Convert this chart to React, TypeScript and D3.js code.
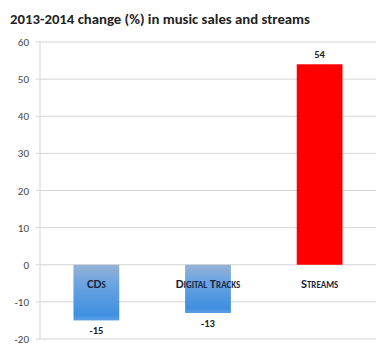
import React from "react";
import * as d3 from "d3";

const categories = ["CDs", "Digital Tracks", "Streams"];
const values = [-15, -13, 54];
const yTicks = [60, 50, 40, 30, 20, 10, 0, -10, -20];
const title = "2013-2014 change (%) in music sales and streams";

const W = 381;
const H = 362;

export default function App() {
  const x = d3.scaleBand<string>().domain(categories).range([40, 376]).paddingInner(0.59).paddingOuter(0.3);
  const y = d3.scaleLinear().domain([-20, 60]).range([339, 42]);
  const font = "Carlito, Lato, 'Open Sans', sans-serif";
  return (
    <svg width={W} height={H} style={{ position: "absolute", left: 0, top: 0, background: "#fff" }}>
      <defs>
        <linearGradient id="blueGrad" x1="0" y1="0" x2="0" y2="1">
          <stop offset="0" stopColor="#98b2d4" />
          <stop offset="0.3" stopColor="#6fa6e2" />
          <stop offset="0.9" stopColor="#3f8fe0" />
          <stop offset="1" stopColor="#5a9fe6" />
        </linearGradient>
      </defs>
      <text x={10} y={24} fontFamily={font} fontWeight="900" fontSize={14} fill="#222"
        textLength={300} lengthAdjust="spacingAndGlyphs">{title}</text>
      {yTicks.map((t) => (
        <g key={t}>
          <line x1={36} x2={376} y1={y(t)} y2={y(t)} stroke="#d4d4d4" strokeWidth={1} />
          <text x={29} y={y(t) + 4} textAnchor="end" fontFamily={font} fontSize={11} fill="#444">{t}</text>
        </g>
      ))}
      <line x1={40} x2={40} y1={y(60)} y2={y(-20)} stroke="#d4d4d4" strokeWidth={1} />
      {categories.map((c, i) => {
        const v = values[i];
        const bx = x(c)!;
        const bw = x.bandwidth();
        const top = Math.min(y(v), y(0));
        const h = Math.abs(y(v) - y(0));
        const cx = bx + bw / 2;
        return (
          <g key={c}>
            <rect x={bx} y={top} width={bw} height={h} fill={v < 0 ? "url(#blueGrad)" : "#ff0000"} />
            <text x={cx} y={v < 0 ? y(v) + 14 : y(v) - 6} textAnchor="middle" fontFamily={font}
              fontWeight="bold" fontSize={10.5} fill="#222">{v}</text>
            <text x={cx} y={y(0) + 23} textAnchor="middle" fontFamily={font} fontWeight="900"
              fontSize={12.5} fill="#1c2740" style={{ fontVariant: "small-caps" }}>{c}</text>
          </g>
        );
      })}
    </svg>
  );
}
